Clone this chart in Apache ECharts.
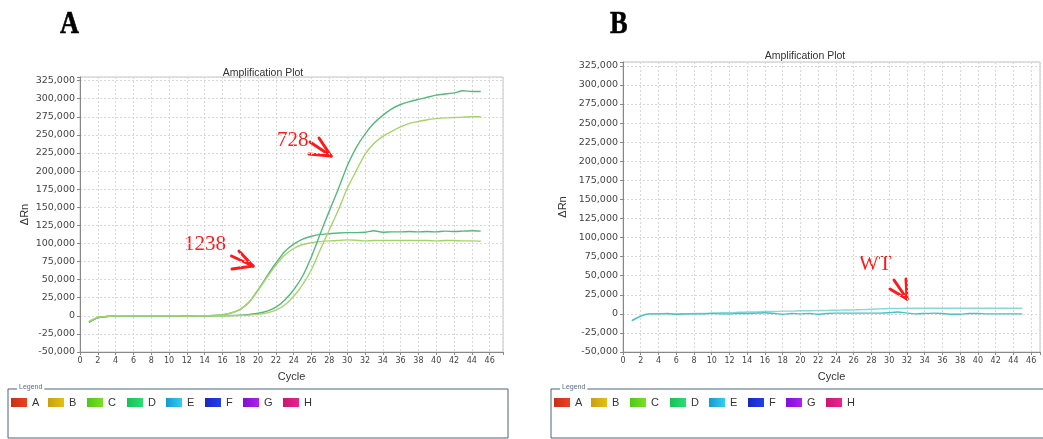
<!DOCTYPE html>
<html>
<head>
<meta charset="utf-8">
<script src="https://cdn.jsdelivr.net/npm/echarts@6/dist/echarts.min.js"></script>
<style>
  html, body { margin: 0; padding: 0; background: #ffffff; }
  #chart { width: 1043px; height: 439px; }
</style>
</head>
<body>
<div id="chart"></div>
<script>
// PCR cycle numbers
const cycles = [1, 2, 3, 4, 5, 6, 7, 8, 9, 10, 11, 12, 13, 14, 15, 16, 17, 18, 19, 20,
  21, 22, 23, 24, 25, 26, 27, 28, 29, 30, 31, 32, 33, 34, 35, 36, 37, 38, 39, 40,
  41, 42, 43, 44, 45];

// Panel A: 1238 amplicon (early, low plateau), two replicate wells
const a1238Upper = [-9000, -2500, -1000, 0, 0, 0, 0, 0, 0, 0, 0, -500, 0, 0, 500, 1500,
  4000, 9000, 19000, 36000, 55000, 73000, 89000, 99000, 106000, 110000, 112500, 113500,
  114500, 115000, 115000, 115500, 117500, 115500, 116000, 116000, 116500, 116000, 116500,
  116000, 117000, 116500, 117000, 117500, 117000];
const a1238Lower = [-8000, -2000, -1000, 0, 0, 0, 0, 0, 0, 0, 0, -500, 0, 0, 500, 1500,
  4000, 9000, 19000, 35000, 53000, 70000, 84000, 93000, 98500, 101000, 102500, 103500,
  104000, 105000, 104500, 103500, 104000, 104000, 104000, 104000, 104000, 104000, 104000,
  103500, 104000, 104000, 103500, 103500, 103000];

// Panel A: 728 amplicon (late, high plateau), two replicate wells
const a728Upper = [-9000, -2500, -1000, 0, 0, 0, 0, 0, 0, 0, 0, -500, 0, 0, 0, 0,
  500, 1000, 2000, 3500, 6500, 12000, 22000, 36000, 55000, 82000, 114000, 145000,
  175000, 207000, 232000, 251000, 266000, 277000, 286000, 292000, 296000, 299000, 302000,
  305000, 306500, 308000, 311000, 310000, 310000];
const a728Lower = [-8000, -2000, -1000, 0, 0, 0, 0, 0, 0, 0, 0, -500, 0, 0, 0, 0,
  0, 500, 1000, 2000, 4000, 8000, 15000, 27000, 43000, 64000, 92000, 119000,
  146000, 176000, 200000, 223000, 238000, 248000, 255000, 261000, 266000, 268500, 271000,
  272500, 273500, 274000, 274500, 275000, 275000];

// Panel B: wild type, no amplification
const bUpper = [-9000, -3000, 0, 0, 0, -500, 0, 500, 500, 1000, 1500, 1500, 2000, 2500,
  2500, 3000, 3000, 3500, 3500, 4000, 4000, 4300, 4500, 4800, 5000, 5200, 5500, 6000,
  6500, 7000, 7000, 7300, 7300, 7300, 7300, 7300, 7300, 7300, 7300, 7300, 7300, 7300,
  7300, 7300, 7300];
const bLower = [-9000, -3000, 0, 0, 500, -500, 0, 0, 0, 500, 0, 0, 500, 500, 1000, 1500,
  500, -500, 500, 0, 500, -500, 500, 1000, 1000, 1000, 1000, 1000, 1000, 1500, 2500,
  1000, 0, 500, 1000, 500, -500, -500, 500, 500, 0, 0, 0, 0, 0];

// Y-axis tick range and step
const yMin = -50000, yMax = 330000, yStep = 25000;

// Plate legend wells
const wellNames = ['A', 'B', 'C', 'D', 'E', 'F', 'G', 'H'];

// Drawing styles
const wellColors = [
  ['#f0401c', '#c83018'], ['#e4c010', '#c8a010'], ['#78e020', '#50c818'], ['#28e070', '#18c058'],
  ['#30d0f0', '#1898d0'], ['#2040e8', '#1828c0'], ['#b020f0', '#8010d0'], ['#f02090', '#c81870']
];
const greenDark = '#55b97c', greenLight = '#a6d46a';
const cyanDark = '#45c2c6', cyanLight = '#86d9d9';
const labelFont = "'Liberation Sans', Arial, sans-serif";
const tickFont = "'DejaVu Sans', Verdana, sans-serif";
const serifFont = "'Liberation Serif', 'Times New Roman', serif";

const pairs = arr => cycles.map((c, i) => [c, arr[i]]);

function xAxis(gridIndex, max) {
  return {
    type: 'value', gridIndex, min: 0, max, interval: 2,
    name: 'Cycle', nameLocation: 'middle', nameGap: 19,
    nameTextStyle: { fontFamily: labelFont, fontSize: 11, color: '#333' },
    axisLine: { show: true, onZero: false, lineStyle: { color: '#888', width: 1 } },
    axisTick: { show: true, length: 3, lineStyle: { color: '#888' } },
    axisLabel: {
      fontFamily: tickFont, fontSize: 8, color: '#444', margin: 5,
      formatter: v => (v % 2 === 0 && v <= 46) ? String(v) : ''
    },
    splitLine: { show: true, lineStyle: { color: '#d8d8d8', type: [2, 2], width: 1 } }
  };
}

function yAxis(gridIndex, nameGap) {
  return {
    type: 'value', gridIndex, min: yMin, max: yMax, interval: yStep,
    name: 'ΔRn', nameLocation: 'middle', nameGap, nameRotate: 90,
    nameTextStyle: { fontFamily: labelFont, fontSize: 11, color: '#333' },
    axisLine: { show: true, onZero: false, lineStyle: { color: '#888', width: 1 } },
    axisTick: { show: true, length: 3, lineStyle: { color: '#888' } },
    axisLabel: {
      fontFamily: tickFont, fontSize: 9.5, color: '#444', margin: 5,
      formatter: v => (v % yStep === 0) ? v.toLocaleString('en-US') : ''
    },
    splitLine: { show: true, lineStyle: { color: '#d8d8d8', type: [2, 2], width: 1 } }
  };
}

function curve(name, arr, idx, color) {
  return {
    name, type: 'line', xAxisIndex: idx, yAxisIndex: idx,
    data: pairs(arr), showSymbol: false, smooth: 0.2,
    lineStyle: { color, width: 1.4 }, emphasis: { disabled: true }
  };
}

// Plate legend box with coloured well swatches
function legendBox(x0, width) {
  const els = [{
    type: 'rect', shape: { x: x0, y: 389, width, height: 49 },
    style: { fill: null, stroke: '#4a6478', lineWidth: 1 }
  }, {
    type: 'text', x: x0 + 9, y: 384,
    style: { text: 'Legend', fontFamily: labelFont, fontSize: 7, fill: '#5a6a8a',
      backgroundColor: '#fff', padding: [0, 2] }
  }];
  const offsets = [3, 40, 79, 119, 158, 197, 235, 275];
  wellNames.forEach((n, i) => {
    const sx = x0 + offsets[i];
    els.push({
      type: 'rect', shape: { x: sx, y: 398, width: 16, height: 9 },
      style: {
        fill: new echarts.graphic.LinearGradient(0, 0, 1, 0, [
          { offset: 0, color: wellColors[i][1] }, { offset: 1, color: wellColors[i][0] }
        ])
      }
    });
    els.push({
      type: 'text', x: sx + 21, y: 397,
      style: { text: n, fontFamily: labelFont, fontSize: 11, fill: '#333' }
    });
  });
  return els;
}

// Red hand-drawn style arrow pointing at a curve
function arrow(tx, ty, a, b) {
  return [a, b, [(a[0] + b[0]) / 2 - 4, (a[1] + b[1]) / 2 - 4]].map(p => ({
    type: 'line', shape: { x1: tx + p[0], y1: ty + p[1], x2: tx, y2: ty },
    style: { stroke: '#ff1a1a', lineWidth: 3, lineCap: 'round' }
  }));
}

const chart = echarts.init(document.getElementById('chart'), null, { renderer: 'canvas' });

chart.setOption({
  animation: false,
  backgroundColor: '#ffffff',
  title: [
    { text: 'Amplification Plot', left: 258, top: 63, textAlign: 'center',
      textStyle: { fontFamily: labelFont, fontSize: 10.5, fontWeight: 'normal', color: '#333' } },
    { text: 'Amplification Plot', left: 800, top: 46, textAlign: 'center',
      textStyle: { fontFamily: labelFont, fontSize: 10.5, fontWeight: 'normal', color: '#333' } }
  ],
  grid: [
    { left: 80, top: 77, width: 423, height: 275, show: true, borderColor: '#c4c4c4', borderWidth: 1, containLabel: false },
    { left: 623, top: 62, width: 421, height: 290, show: true, borderColor: '#c4c4c4', borderWidth: 1, containLabel: false }
  ],
  xAxis: [xAxis(0, 47.5), xAxis(1, 47)],
  yAxis: [yAxis(0, 50), yAxis(1, 55)],
  series: [
    curve('1238-1', a1238Upper, 0, greenDark),
    curve('1238-2', a1238Lower, 0, greenLight),
    curve('728-1', a728Upper, 0, greenDark),
    curve('728-2', a728Lower, 0, greenLight),
    curve('WT-1', bUpper, 1, cyanLight),
    curve('WT-2', bLower, 1, cyanDark)
  ],
  graphic: [
    { type: 'text', x: 60, y: 9, scaleX: 0.85, style: { text: 'A', fontFamily: serifFont, fontSize: 31, fontWeight: 900, fill: '#000', stroke: '#000', lineWidth: 0.6 } },
    { type: 'text', x: 610, y: 9, scaleX: 0.85, style: { text: 'B', fontFamily: serifFont, fontSize: 31, fontWeight: 900, fill: '#000', stroke: '#000', lineWidth: 0.6 } },
    { type: 'text', x: 277, y: 130, style: { text: '728', fontFamily: serifFont, fontSize: 21, fill: '#ff1a1a' } },
    { type: 'text', x: 184, y: 234, style: { text: '1238', fontFamily: serifFont, fontSize: 21, fill: '#ff1a1a' } },
    { type: 'text', x: 859, y: 254, style: { text: 'WT', fontFamily: serifFont, fontSize: 21, fill: '#ff1a1a' } },
    ...arrow(331, 156, [-22, -2], [-12, -18]),
    ...arrow(253, 266, [-21, 3], [-14, -15]),
    ...arrow(907, 299, [-17, -10], [-1, -20]),
    ...legendBox(8, 500),
    ...legendBox(551, 500)
  ]
});
</script>
</body>
</html>
